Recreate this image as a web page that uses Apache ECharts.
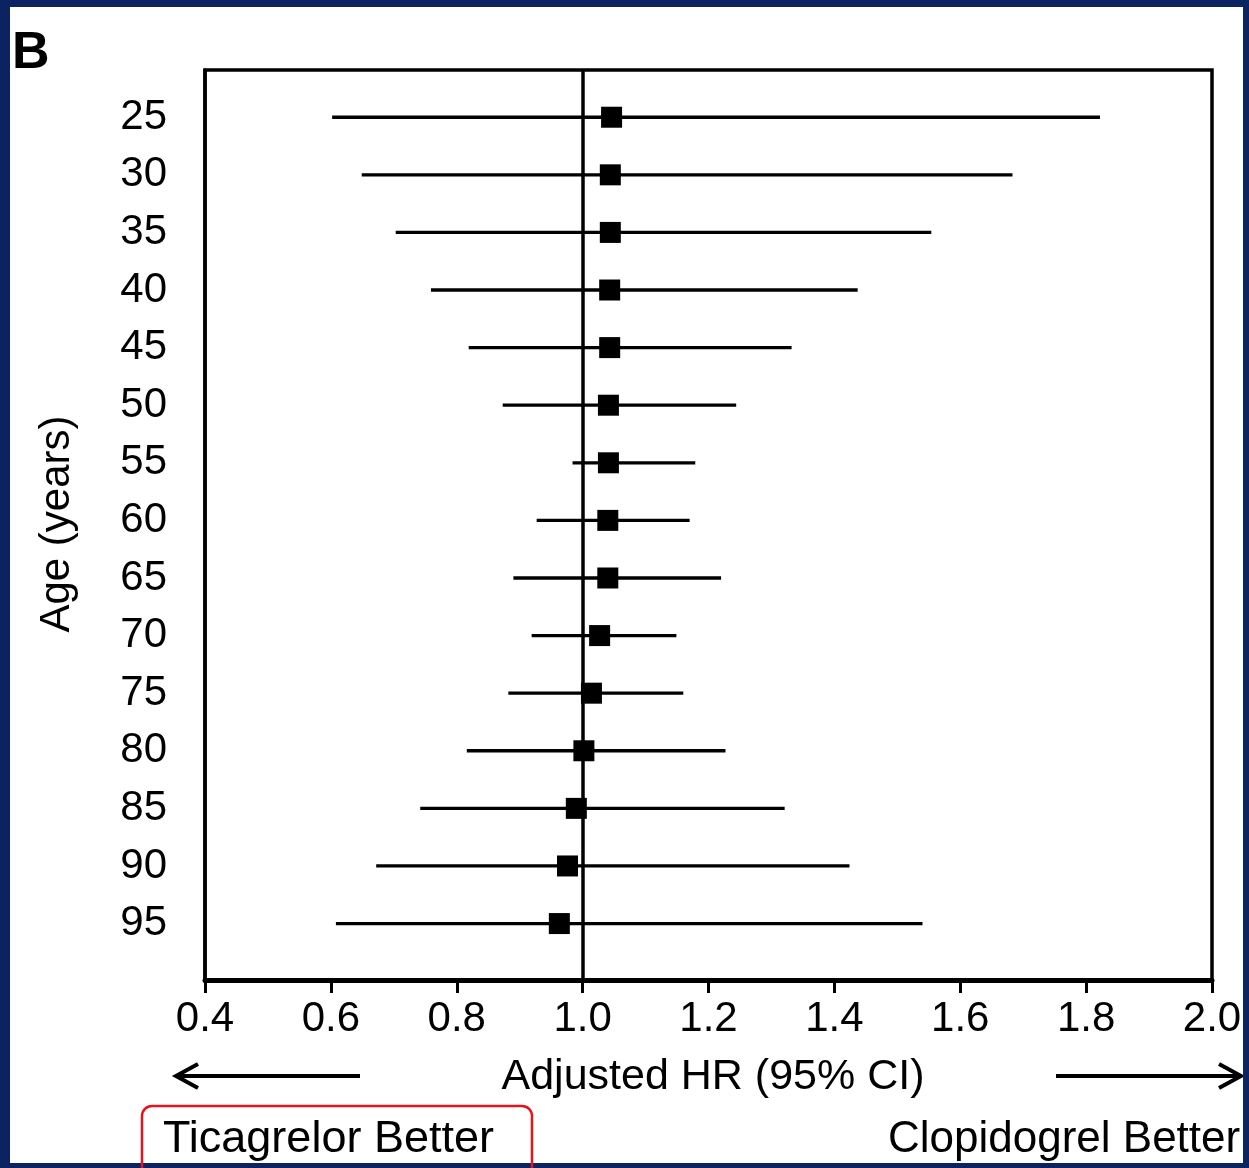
<!DOCTYPE html>
<html>
<head>
<meta charset="utf-8">
<script src="https://cdn.jsdelivr.net/npm/echarts@6/dist/echarts.min.js"></script>
<style>
html,body{margin:0;padding:0;background:#fff;}
#chart{width:1249px;height:1168px;}
</style>
</head>
<body>
<div id="chart"></div>
<script>
// Data
const ages = [25, 30, 35, 40, 45, 50, 55, 60, 65, 70, 75, 80, 85, 90, 95];
const hr = [1.046, 1.044, 1.044, 1.043, 1.043, 1.041, 1.041, 1.040, 1.040, 1.027, 1.014, 1.002, 0.990, 0.976, 0.963];
const lowerCI = [0.602, 0.649, 0.703, 0.759, 0.819, 0.873, 0.984, 0.927, 0.890, 0.919, 0.882, 0.816, 0.742, 0.672, 0.608];
const upperCI = [1.822, 1.683, 1.554, 1.437, 1.332, 1.244, 1.179, 1.170, 1.220, 1.149, 1.160, 1.227, 1.321, 1.424, 1.540];
const xTicks = [0.4, 0.6, 0.8, 1.0, 1.2, 1.4, 1.6, 1.8, 2.0];
const refLine = 1.0;

const FONT = "'Liberation Sans', Arial, Helvetica, sans-serif";
const NAVY = '#0b2360';

const chart = echarts.init(document.getElementById('chart'), null, {renderer: 'canvas'});

const ciData = ages.map((a, i) => [lowerCI[i], upperCI[i], a]);
const ptData = ages.map((a, i) => [hr[i], a]);

const option = {
  backgroundColor: '#fff',
  animation: false,
  grid: {
    left: 205, right: 37, top: 70, bottom: 188,
    show: true, borderColor: '#000', borderWidth: 3.5, backgroundColor: '#fff'
  },
  xAxis: {
    type: 'value',
    min: xTicks[0], max: xTicks[xTicks.length - 1], interval: 0.2,
    axisLine: {show: true, onZero: false, lineStyle: {color: '#000', width: 5}},
    axisTick: {show: true, inside: false, length: 13, lineStyle: {color: '#000', width: 3}},
    splitLine: {show: false},
    axisLabel: {
      color: '#000', fontSize: 42, fontFamily: FONT, margin: 18,
      formatter: v => Number(v).toFixed(1)
    }
  },
  yAxis: {
    type: 'value',
    inverse: true,
    min: 20.9, max: 99.9,
    axisLine: {show: true, onZero: false, lineStyle: {color: '#000', width: 3.5}},
    axisTick: {show: false},
    splitLine: {show: false},
    axisLabel: {
      color: '#000', fontSize: 42, fontFamily: FONT, margin: 38,
      customValues: ages,
      formatter: v => String(v)
    }
  },
  series: [
    {
      type: 'custom',
      name: 'CI',
      data: ciData,
      encode: {x: [0, 1], y: 2},
      renderItem: function (params, api) {
        const lo = api.coord([api.value(0), api.value(2)]);
        const hi = api.coord([api.value(1), api.value(2)]);
        return {
          type: 'line',
          shape: {x1: lo[0], y1: lo[1], x2: hi[0], y2: hi[1]},
          style: {stroke: '#000', lineWidth: 3.3}
        };
      },
      z: 2
    },
    {
      type: 'scatter',
      name: 'HR',
      data: ptData,
      symbol: 'rect',
      symbolSize: 21,
      itemStyle: {color: '#000', opacity: 1},
      z: 4,
      markLine: {
        silent: true,
        symbol: ['none', 'none'],
        label: {show: false},
        lineStyle: {color: '#000', width: 3.5, type: 'solid', opacity: 1},
        data: [{xAxis: refLine}]
      }
    }
  ],
  graphic: [
    {type: 'text', left: 12, top: 28, style: {text: 'B', font: 'bold 52px ' + FONT, fill: '#000'}},
    {type: 'text', x: 57, y: 524, rotation: Math.PI / 2,
      style: {text: 'Age (years)', font: '42px ' + FONT, fill: '#000', align: 'center', verticalAlign: 'middle'}},
    {type: 'text', x: 713, y: 1077,
      style: {text: 'Adjusted HR (95% CI)', font: '43px ' + FONT, fill: '#000', align: 'center', verticalAlign: 'middle'}},
    {type: 'line', shape: {x1: 178, y1: 1076, x2: 360, y2: 1076}, style: {stroke: '#000', lineWidth: 4}},
    {type: 'polyline', shape: {points: [[198, 1064], [176, 1076], [198, 1088]]}, style: {stroke: '#000', lineWidth: 4, fill: null}},
    {type: 'line', shape: {x1: 1056, y1: 1076, x2: 1238, y2: 1076}, style: {stroke: '#000', lineWidth: 4}},
    {type: 'polyline', shape: {points: [[1219, 1064], [1241, 1076], [1219, 1088]]}, style: {stroke: '#000', lineWidth: 4, fill: null}},
    {type: 'text', x: 163, y: 1140,
      style: {text: 'Ticagrelor Better', font: '45px ' + FONT, fill: '#000', align: 'left', verticalAlign: 'middle'}},
    {type: 'text', x: 888, y: 1140,
      style: {text: 'Clopidogrel Better', font: '44px ' + FONT, fill: '#000', align: 'left', verticalAlign: 'middle'}},
    {type: 'rect', shape: {x: 142, y: 1106, width: 390, height: 90, r: 10},
      style: {stroke: '#e3141c', lineWidth: 2.5, fill: null}, z: 50},
    {type: 'rect', shape: {x: 0, y: 0, width: 10, height: 1168}, style: {fill: NAVY}, z: 100},
    {type: 'rect', shape: {x: 0, y: 0, width: 1249, height: 7}, style: {fill: NAVY}, z: 100},
    {type: 'rect', shape: {x: 1243, y: 0, width: 6, height: 1168}, style: {fill: NAVY}, z: 100},
    {type: 'rect', shape: {x: 0, y: 1163, width: 1249, height: 5}, style: {fill: NAVY}, z: 40}
  ]
};
chart.setOption(option);
</script>
</body>
</html>
